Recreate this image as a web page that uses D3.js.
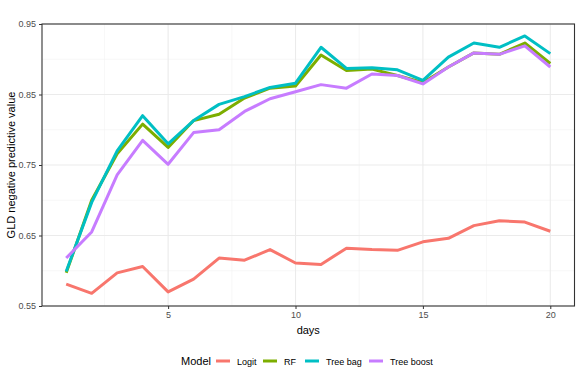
<!DOCTYPE html>
<html><head><meta charset="utf-8">
<script src="https://cdn.jsdelivr.net/npm/d3@7"></script>
<style>body{margin:0;background:#fff;} svg{display:block;font-family:Arial,"Liberation Sans",sans-serif;}</style>
</head><body>
<svg id="c" width="580" height="380"></svg>
<script>
const days = [1,2,3,4,5,6,7,8,9,10,11,12,13,14,15,16,17,18,19,20];
const models = ["Logit","RF","Tree bag","Tree boost"];
const colors = ["#F8766D","#7CAE00","#00BFC4","#C77CFF"];
const logit = [0.581,0.568,0.597,0.606,0.570,0.588,0.618,0.615,0.630,0.611,0.609,0.632,0.630,0.629,0.641,0.646,0.664,0.671,0.669,0.656];
const rf = [0.597,0.700,0.766,0.808,0.775,0.813,0.822,0.845,0.859,0.862,0.906,0.884,0.886,0.877,0.867,0.889,0.909,0.907,0.923,0.894];
const treeBag = [0.599,0.697,0.770,0.820,0.780,0.813,0.836,0.847,0.860,0.866,0.917,0.887,0.888,0.885,0.870,0.903,0.923,0.917,0.933,0.908];
const treeBoost = [0.618,0.655,0.736,0.785,0.751,0.796,0.800,0.826,0.844,0.854,0.864,0.859,0.879,0.877,0.865,0.889,0.909,0.907,0.919,0.889];
const yTicks = [0.55,0.65,0.75,0.85,0.95];
const yMinor = [0.6,0.7,0.8,0.9];
const xTicks = [5,10,15,20];
const xMinor = [2.5,7.5,12.5,17.5];
const series = [logit, rf, treeBag, treeBoost];

const svg = d3.select("#c");
const L=42, R=574.5, T=24, B=306;
const x = d3.scaleLinear().domain([0.05,20.95]).range([L,R]);
const y = d3.scaleLinear().domain([0.55,0.95]).range([B,T]);

const g = svg.append("g");
// grid
g.selectAll(".ymin").data(yMinor).enter().append("line")
 .attr("x1",L).attr("x2",R).attr("y1",d=>y(d)).attr("y2",d=>y(d))
 .attr("stroke","#f2f2f2").attr("stroke-width",0.6);
g.selectAll(".xmin").data(xMinor).enter().append("line")
 .attr("y1",T).attr("y2",B).attr("x1",d=>x(d)).attr("x2",d=>x(d))
 .attr("stroke","#f2f2f2").attr("stroke-width",0.6);
g.selectAll(".ymaj").data(yTicks).enter().append("line")
 .attr("x1",L).attr("x2",R).attr("y1",d=>y(d)).attr("y2",d=>y(d))
 .attr("stroke","#ebebeb").attr("stroke-width",1.1);
g.selectAll(".xmaj").data(xTicks).enter().append("line")
 .attr("y1",T).attr("y2",B).attr("x1",d=>x(d)).attr("x2",d=>x(d))
 .attr("stroke","#ebebeb").attr("stroke-width",1.1);

// lines
const line = d3.line().x((d,i)=>x(days[i])).y(d=>y(d));
series.forEach((s,k)=>{
  g.append("path").datum(s).attr("d",line).attr("fill","none")
   .attr("stroke",colors[k]).attr("stroke-width",3).attr("stroke-linejoin","round");
});

// border
g.append("rect").attr("x",L).attr("y",T).attr("width",R-L).attr("height",B-T)
 .attr("fill","none").attr("stroke","#333").attr("stroke-width",1.1);

// axes
const xa = svg.append("g").attr("transform",`translate(0,${B})`)
 .call(d3.axisBottom(x).tickValues(xTicks).tickSize(3).tickPadding(3).tickFormat(d3.format("d")));
const ya = svg.append("g").attr("transform",`translate(${L},0)`)
 .call(d3.axisLeft(y).tickValues(yTicks).tickSize(3).tickPadding(3).tickFormat(d3.format(".2f")));
[xa,ya].forEach(a=>{
  a.select(".domain").remove();
  a.selectAll(".tick line").attr("stroke","#333");
  a.selectAll(".tick text").attr("fill","#4d4d4d").style("font-size","9px").style("font-family","Arial,'Liberation Sans',sans-serif");
});

svg.append("text").attr("x",(L+R)/2).attr("y",334).attr("text-anchor","middle")
 .style("font-size","11px").attr("fill","#000").text("days");
svg.append("text").attr("transform",`translate(15,${(T+B)/2}) rotate(-90)`).attr("text-anchor","middle")
 .style("font-size","11px").attr("fill","#000").text("GLD negative predictive value");

// legend
const lg = svg.append("g");
lg.append("text").attr("x",181).attr("y",365).style("font-size","11px").attr("fill","#000").text("Model");
const keyX = [216,263,305,369];
models.forEach((m,k)=>{
  lg.append("line").attr("x1",keyX[k]).attr("x2",keyX[k]+14).attr("y1",361).attr("y2",361)
   .attr("stroke",colors[k]).attr("stroke-width",3);
  lg.append("text").attr("x",keyX[k]+21).attr("y",364.5).style("font-size","9px").attr("fill","#000").text(m);
});
</script>
</body></html>
